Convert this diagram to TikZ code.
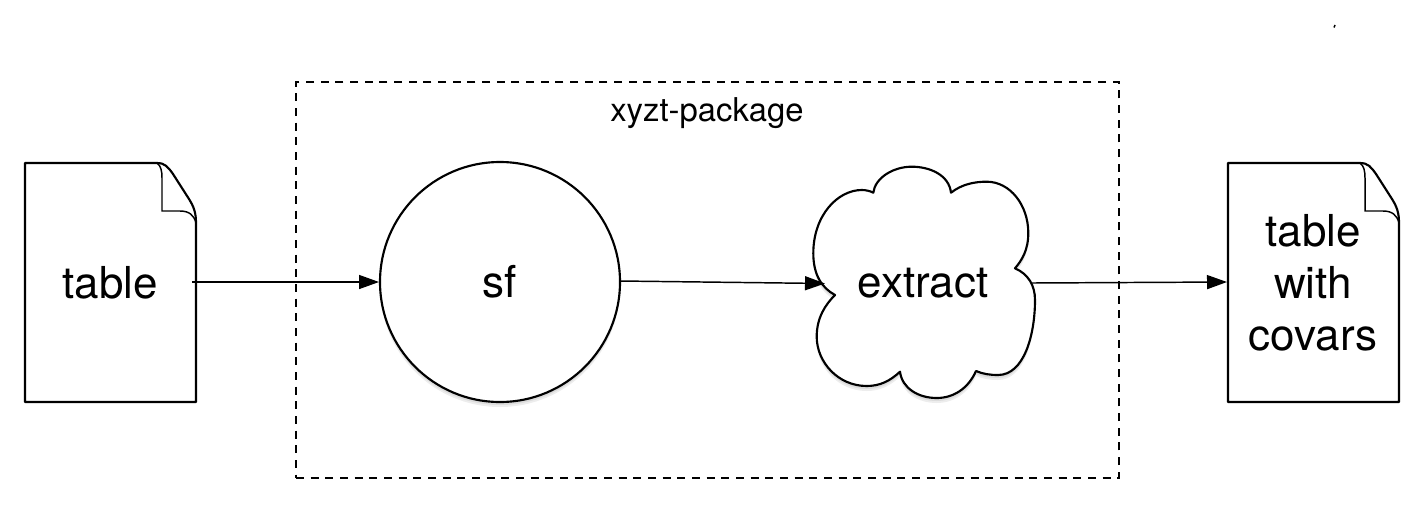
\documentclass[tikz,border=0pt]{standalone}
\usepackage{fontspec}
\setmainfont{TeX Gyre Heros}
\usetikzlibrary{arrows.meta}
\newcommand{\cloudoutline}{
  (873.3,192.7) .. controls (875,178) and (893,166.7) .. (911.7,166.7)
  .. controls (930,166.7) and (949,175) .. (951,192.7)
  .. controls (962,184) and (975,181.7) .. (986.7,181.7)
  .. controls (1010,181.7) and (1028.3,205) .. (1028.3,233)
  .. controls (1028.3,250) and (1022,260) .. (1015,268.3)
  .. controls (1028,274) and (1035,285) .. (1035,300)
  .. controls (1035,335) and (1024,375) .. (998,375)
  .. controls (990,375) and (983,374) .. (976,371)
  .. controls (968,389) and (953,398) .. (936.7,398)
  .. controls (918,398) and (902,388) .. (900,371.7)
  .. controls (890,381) and (880,386) .. (866.7,386)
  .. controls (838,386) and (816.7,362) .. (816.7,336.7)
  .. controls (816.7,318) and (825,305) .. (835,295)
  .. controls (822,288) and (813.3,275) .. (813.3,253.3)
  .. controls (813.3,215) and (838,190) .. (861.7,190)
  .. controls (866,190) and (870,191) .. (873.3,192.7) -- cycle}
\begin{document}
\begin{tikzpicture}[x=0.75pt,y=-0.75pt,
  line/.style={draw=black,line width=1.6pt,line join=round},
  thin line/.style={draw=black,line width=1.1pt},
  flow/.style={draw=black,line width=1.1pt,-{Triangle[length=15pt,width=10.5pt]}},
  big/.style={font=\fontsize{33}{39}\selectfont,align=center,text=black},
  small/.style={font=\fontsize{24.6}{30}\selectfont,text=black},
  softshadow/.style={fill=black,opacity=0.07},
  docshape/.pic={
    \path[line,fill=white] (0,0) -- (132,0) .. controls (140,0) and (143,4) .. (148,11)
      -- (164,36) .. controls (169,44) and (171,50) .. (171,60) -- (171,239) -- (0,239) -- cycle;
    \path[thin line] (132,0) .. controls (136,3) and (137,8) .. (137,15) -- (137,48)
      -- (155,48) .. controls (164,48) and (169,52) .. (171,60);
  }]
\useasboundingbox (0,0) rectangle (1424,504);
\fill[white] (0,0) rectangle (1424,504);
% stray mark
\draw[line width=1.1pt] (1334,27.5) -- (1335,25);
% package frame
\node[draw=black,line width=1.1pt,dash pattern=on 6pt off 5pt,minimum width=617.25pt,minimum height=297pt,inner sep=0] (pkg) at (707.5,280) {};
\node[small] (pkglabel) at (707,113.5) {xyzt-package};
% documents
\pic at (25,163) {docshape};
\pic at (1228,163) {docshape};
\node[big] (tablein) at (110,283) {table};
\node[big] (tableout) at (1313,283) {table\\with\\covars};
% sf
\fill[softshadow] (500,285) circle[radius=120];
\fill[softshadow] (500,287) circle[radius=120];
\node[circle,draw=black,line width=1.6pt,fill=white,minimum size=180pt,inner sep=0,big] (sf) at (500,282) {sf};
% cloud
\fill[softshadow] [yshift=-2.25pt] \cloudoutline;
\fill[softshadow] [yshift=-3.75pt] \cloudoutline;
\path[line,fill=white] \cloudoutline;
\node[big] (extract) at (923,283) {extract};
% anchors
\coordinate (a1) at (192,282);
\coordinate (a2) at (379,282);
\coordinate (b1) at (620,281);
\coordinate (b2) at (825,283.5);
\coordinate (c1) at (1032,283);
\coordinate (c2) at (1227,282);
\draw[flow] (a1) -- (a2);
\draw[flow] (b1) -- (b2);
\draw[flow] (c1) -- (c2);
\end{tikzpicture}
\end{document}
